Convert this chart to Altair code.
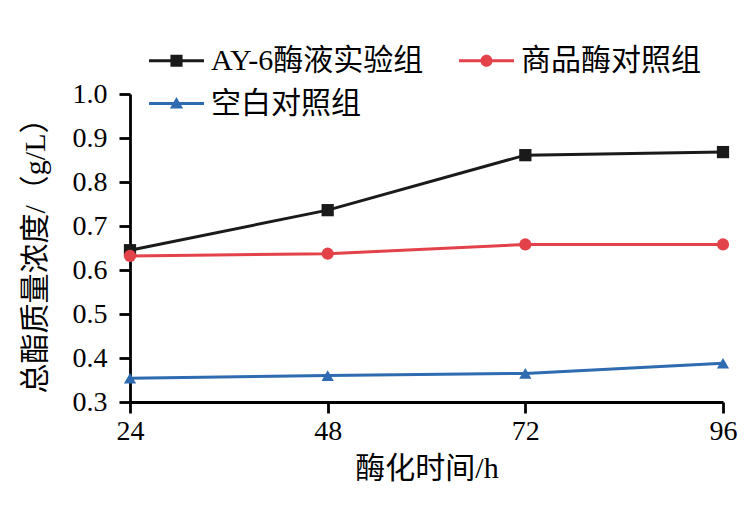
import altair as alt
import pandas as pd

times = [24, 48, 72, 96]
series_names = ["AY-6酶液实验组", "商品酶对照组", "空白对照组"]
ay6 = [0.645, 0.736, 0.861, 0.868]
commercial = [0.632, 0.637, 0.658, 0.658]
blank = [0.354, 0.360, 0.365, 0.388]
colors = ["#1a1a1a", "#E3424A", "#2E6BB0"]
shapes = ["square", "circle", "triangle-up"]

# legend symbols: a line segment with the marker in the middle
legend_shapes = [
    "M-1,-0.055H1V0.055H-1Z M-0.22,-0.22H0.22V0.22H-0.22Z",
    "M-1,-0.055H1V0.055H-1Z M0.22,0A0.22,0.22 0 1,1 -0.22,0A0.22,0.22 0 1,1 0.22,0Z",
    "M-1,-0.055H1V0.055H-1Z M0,-0.24L0.24,0.18H-0.24Z",
]
# legend grid is filled column by column
legend_order = [0, 2, 1]

rows = []
for name, vals in zip(series_names, [ay6, commercial, blank]):
    for t, v in zip(times, vals):
        rows.append({"time": t, "value": v, "series": name})
df = pd.DataFrame(rows)

FONT = "Liberation Serif, Noto Sans CJK SC"

x = alt.X("time:Q", scale=alt.Scale(domain=[24, 96], nice=False),
          axis=alt.Axis(values=times, title="酶化时间/h", format="d"))
y = alt.Y("value:Q", scale=alt.Scale(domain=[0.3, 1.0], nice=False, zero=False),
          axis=alt.Axis(values=[0.3, 0.4, 0.5, 0.6, 0.7, 0.8, 0.9, 1.0], format=".1f",
                        title="总酯质量浓度/（g/L）"))

cscale = alt.Scale(domain=series_names, range=colors)

lines = alt.Chart(df).mark_line(strokeWidth=3).encode(
    x=x, y=y,
    color=alt.Color("series:N", scale=cscale, legend=None),
)

points = alt.Chart(df).mark_point(filled=True, opacity=1, size=150, strokeWidth=0).encode(
    x=x, y=y,
    color=alt.Color("series:N", scale=cscale, legend=None),
    shape=alt.Shape("series:N", scale=alt.Scale(domain=series_names, range=shapes), legend=None),
)

lg_domain = [series_names[i] for i in legend_order]
lg_colors = [colors[i] for i in legend_order]
lg_shapes = [legend_shapes[i] for i in legend_order]

legend_layer = alt.Chart(df).transform_filter("false").mark_point(
    filled=True, opacity=1, strokeWidth=0
).encode(
    x=x, y=y,
    color=alt.Color("series:N", scale=alt.Scale(domain=lg_domain, range=lg_colors), title=None,
                    legend=alt.Legend(orient="none", legendX=19, legendY=-61, columns=2,
                                      columnPadding=35, rowPadding=-5, symbolSize=3025,
                                      labelOffset=7, padding=0, symbolStrokeWidth=0)),
    shape=alt.Shape("series:N", scale=alt.Scale(domain=lg_domain, range=lg_shapes),
                    title=None),
)

chart = alt.layer(lines, points, legend_layer).resolve_scale(
    color="independent", shape="independent"
).properties(
    width=593, height=308,
    autosize=alt.AutoSizeParams(type="none"),
    padding={"left": 130, "top": 94, "right": 32, "bottom": 105},
).configure_view(stroke=None).configure_axis(
    labelFont=FONT, titleFont=FONT, labelFontSize=28, titleFontSize=30,
    labelColor="#000", titleColor="#000", domainColor="#000", tickColor="#000",
    domainWidth=2.8, tickWidth=2.8, tickSize=11, grid=False, titleFontWeight="normal",
    labelPadding=4, labelFlush=False, labelOverlap=False,
).configure_axisY(titlePadding=22, labelPadding=12).configure_axisX(titlePadding=8).configure_legend(
    labelFont=FONT, labelFontSize=30, labelColor="#000", labelLimit=400,
)

chart.save("out.html", embed_options={"renderer": "svg", "actions": False})
